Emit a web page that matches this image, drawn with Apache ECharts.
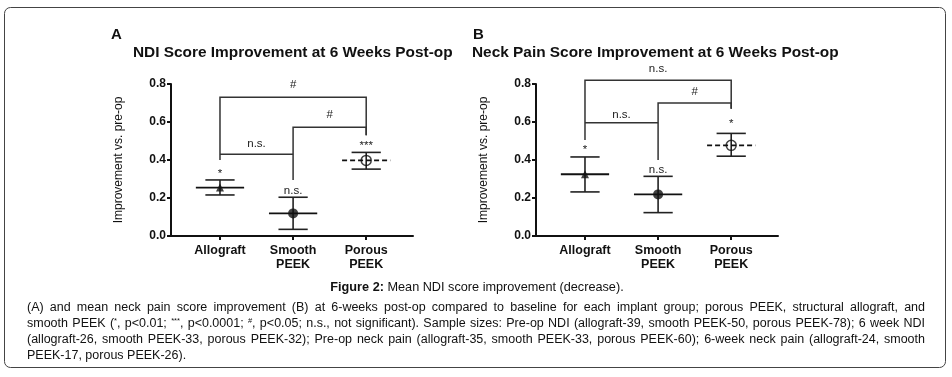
<!DOCTYPE html>
<html>
<head>
<meta charset="utf-8">
<script src="https://cdn.jsdelivr.net/npm/echarts@6/dist/echarts.min.js"></script>
<style>
  html, body { margin: 0; padding: 0; background: #fff; }
  #chart { width: 952px; height: 377px; }
</style>
</head>
<body>
<div id="chart"></div>
<script>
// categories and values
var categories = ['Allograft', 'Smooth\nPEEK', 'Porous\nPEEK'];

var ndiMean = [0.255, 0.119, 0.398];
var ndiLow  = [0.216, 0.035, 0.352];
var ndiHigh = [0.295, 0.204, 0.440];
var ndiMarks = ['*', 'n.s.', '***'];
var ndiMarkY = [0.325, 0.24, 0.475];

var painMean = [0.325, 0.219, 0.477];
var painLow  = [0.232, 0.123, 0.420];
var painHigh = [0.416, 0.314, 0.540];
var painMarks = ['*', 'n.s.', '*'];
var painMarkY = [0.455, 0.35, 0.59];

// brackets: [from, to, top, fromEnd, toEnd]
var ndiBrackets = [[0, 2, 0.73, 0.40, 0.53], [1, 2, 0.572, 0.295, 0.53], [0, 1, 0.43, 0.43, 0.43]];
var ndiBracketText = ['#', '#', 'n.s.'];
var ndiBracketTextY = [0.795, 0.637, 0.484];

var painBrackets = [[0, 2, 0.82, 0.505, 0.67], [1, 2, 0.70, 0.40, 0.67], [0, 1, 0.596, 0.596, 0.596]];
var painBracketText = ['n.s.', '#', 'n.s.'];
var painBracketTextY = [0.88, 0.76, 0.64];

// styling per group (not data)
var symbols = ['triangle', 'circle', 'circle'];
var hollow = [false, false, true];
var dashedMean = [false, false, true];
var FONT = 'Liberation Sans, Arial, sans-serif';

var chart = echarts.init(document.getElementById('chart'));

function xAxisFor(i) {
  return {
    type: 'value', gridIndex: i, min: -0.67, max: 2.64,
    axisLine: { onZero: false, lineStyle: { color: '#111', width: 2 } },
    axisTick: { show: true, customValues: [0, 1, 2], length: 4, lineStyle: { color: '#111', width: 2 } },
    axisLabel: {
      customValues: [0, 1, 2], margin: 8,
      formatter: function (v) { return categories[Math.round(v)]; },
      color: '#111', fontFamily: FONT, fontSize: 12.5, fontWeight: 'bold', lineHeight: 13.5
    },
    splitLine: { show: false }
  };
}

function yAxisFor(i) {
  return {
    type: 'value', gridIndex: i, min: 0, max: 0.8, interval: 0.2,
    name: 'Improvement vs. pre-op', nameLocation: 'middle', nameGap: 46, nameRotate: 90,
    nameTextStyle: { color: '#111', fontFamily: FONT, fontSize: 12 },
    axisLine: { show: true, onZero: false, lineStyle: { color: '#111', width: 2 } },
    axisTick: { show: true, length: 4, lineStyle: { color: '#111', width: 2 } },
    axisLabel: {
      formatter: function (v) { return v.toFixed(1); }, margin: 5,
      color: '#111', fontFamily: FONT, fontSize: 12, fontWeight: 'bold'
    },
    splitLine: { show: false }
  };
}

function errorSeries(i, mean, low, high) {
  return {
    type: 'custom', xAxisIndex: i, yAxisIndex: i, z: 3,
    data: mean.map(function (m, k) { return [k, m, low[k], high[k]]; }),
    renderItem: function (params, api) {
      var k = params.dataIndex;
      var x = api.value(0);
      var c = api.coord([x, api.value(1)]);
      var lo = api.coord([x, api.value(2)]);
      var hi = api.coord([x, api.value(3)]);
      var unit = api.size([1, 0])[0];
      var hm = unit * 0.33, hc = unit * 0.2;
      var st = { stroke: '#222', lineWidth: 1.6 };
      return {
        type: 'group',
        children: [
          { type: 'line', shape: { x1: c[0], y1: hi[1], x2: c[0], y2: lo[1] }, style: st },
          { type: 'line', shape: { x1: c[0] - hc, y1: hi[1], x2: c[0] + hc, y2: hi[1] }, style: st },
          { type: 'line', shape: { x1: c[0] - hc, y1: lo[1], x2: c[0] + hc, y2: lo[1] }, style: st },
          { type: 'line', shape: { x1: c[0] - hm, y1: c[1], x2: c[0] + hm, y2: c[1] },
            style: { stroke: '#111', lineWidth: 1.8, lineDash: dashedMean[k] ? [5, 3] : null } }
        ]
      };
    }
  };
}

function markerSeries(i, mean) {
  return {
    type: 'scatter', xAxisIndex: i, yAxisIndex: i, z: 4,
    data: mean.map(function (m, k) {
      return {
        value: [k, m], symbol: symbols[k],
        symbolSize: k === 0 ? 8 : 10,
        itemStyle: hollow[k] ? { color: 'rgba(0,0,0,0)', borderColor: '#111', borderWidth: 1.5 } : { color: '#111' }
      };
    })
  };
}

function bracketSeries(i, brackets) {
  return {
    type: 'custom', xAxisIndex: i, yAxisIndex: i, z: 2, clip: false,
    data: brackets,
    renderItem: function (params, api) {
      var f = api.value(0), t = api.value(1), top = api.value(2);
      var pts = [api.coord([f, api.value(3)]), api.coord([f, top]), api.coord([t, top]), api.coord([t, api.value(4)])];
      return { type: 'polyline', shape: { points: pts }, style: { stroke: '#333', lineWidth: 1.5, fill: null } };
    }
  };
}

function textSeries(i, xs, ys, texts) {
  return {
    type: 'custom', xAxisIndex: i, yAxisIndex: i, z: 5, clip: false,
    data: xs.map(function (x, k) { return [x, ys[k]]; }),
    renderItem: function (params, api) {
      var p = api.coord([api.value(0), api.value(1)]);
      return {
        type: 'text', x: p[0], y: p[1],
        style: { text: texts[params.dataIndex], fill: '#222', font: '11.5px ' + FONT, align: 'center', verticalAlign: 'middle' }
      };
    }
  };
}

// caption, {s|..} = superscript
var captionLines = [
  '(A) and mean neck pain score improvement (B) at 6-weeks post-op compared to baseline for each implant group; porous PEEK, structural allograft, and',
  'smooth PEEK ({s|*}, p<0.01; {s|***}, p<0.0001; {s|#}, p<0.05; n.s., not significant). Sample sizes: Pre-op NDI (allograft-39, smooth PEEK-50, porous PEEK-78); 6 week NDI',
  '(allograft-26, smooth PEEK-33, porous PEEK-32); Pre-op neck pain (allograft-35, smooth PEEK-33, porous PEEK-60); 6-week neck pain (allograft-24, smooth',
  'PEEK-17, porous PEEK-26).'
];
var CAP_SIZE = 12.5, SUP_SIZE = 7.5;
var capLeft = 27, capRight = 925;

var measureCtx = document.createElement('canvas').getContext('2d');
function wordWidth(w) {
  var total = 0;
  w.split(/(\{s\|[^}]*\})/).forEach(function (part) {
    if (!part) return;
    var m = part.match(/^\{s\|([^}]*)\}$/);
    measureCtx.font = (m ? SUP_SIZE : CAP_SIZE) + 'px ' + FONT;
    total += measureCtx.measureText(m ? m[1] : part).width;
  });
  return total;
}

var graphics = [
  { type: 'rect', shape: { x: 4.5, y: 7.5, width: 941, height: 360, r: 6 }, style: { fill: null, stroke: '#444', lineWidth: 1 } },
  { type: 'text', x: 111, y: 35, style: { text: 'A', font: 'bold 15px ' + FONT, fill: '#111', verticalAlign: 'middle' } },
  { type: 'text', x: 473, y: 35, style: { text: 'B', font: 'bold 15px ' + FONT, fill: '#111', verticalAlign: 'middle' } },
  { type: 'text', x: 133, y: 53, style: { text: 'NDI Score Improvement at 6 Weeks Post-op', font: 'bold 15.4px ' + FONT, fill: '#111', verticalAlign: 'middle' } },
  { type: 'text', x: 472, y: 53, style: { text: 'Neck Pain Score Improvement at 6 Weeks Post-op', font: 'bold 15.4px ' + FONT, fill: '#111', verticalAlign: 'middle' } },
  { type: 'text', x: 477, y: 287, style: {
      text: '{b|Figure 2:} Mean NDI score improvement (decrease).', align: 'center', verticalAlign: 'middle',
      font: '12.7px ' + FONT, fill: '#111',
      rich: { b: { fontWeight: 'bold', fontSize: 12.7, fontFamily: FONT, fill: '#111' } }
  } }
];

captionLines.forEach(function (line, k) {
  var words = line.split(' ');
  var widths = words.map(wordWidth);
  var sum = widths.reduce(function (a, b) { return a + b; }, 0);
  var space = wordWidth(' ');
  var last = k === captionLines.length - 1;
  var gap = last ? space : (capRight - capLeft - sum) / (words.length - 1);
  var x = capLeft;
  var y = 308 + k * 15.7;
  words.forEach(function (w, j) {
    graphics.push({
      type: 'text', x: x, y: y,
      style: {
        text: w, font: CAP_SIZE + 'px ' + FONT, fill: '#111', verticalAlign: 'middle',
        rich: { s: { fontSize: SUP_SIZE, fontFamily: FONT, fill: '#111', verticalAlign: 'top', padding: [0, 0, 5, 0] } }
      }
    });
    x += widths[j] + gap;
  });
});

var option = {
  animation: false,
  backgroundColor: '#fff',
  grid: [
    { left: 171, top: 84, width: 242, height: 152 },
    { left: 536, top: 84, width: 242, height: 152 }
  ],
  xAxis: [xAxisFor(0), xAxisFor(1)],
  yAxis: [yAxisFor(0), yAxisFor(1)],
  series: [
    bracketSeries(0, ndiBrackets),
    errorSeries(0, ndiMean, ndiLow, ndiHigh),
    markerSeries(0, ndiMean),
    textSeries(0, [0, 1, 2], ndiMarkY, ndiMarks),
    textSeries(0, [1, 1.5, 0.5], ndiBracketTextY, ndiBracketText),
    bracketSeries(1, painBrackets),
    errorSeries(1, painMean, painLow, painHigh),
    markerSeries(1, painMean),
    textSeries(1, [0, 1, 2], painMarkY, painMarks),
    textSeries(1, [1, 1.5, 0.5], painBracketTextY, painBracketText)
  ],
  graphic: graphics
};
chart.setOption(option);
</script>
</body>
</html>
